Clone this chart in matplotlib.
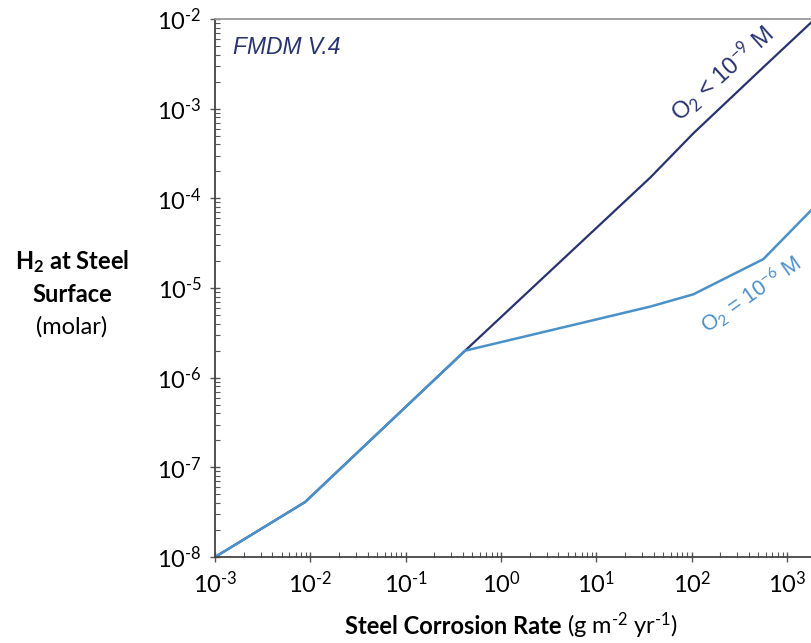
import numpy as np
import matplotlib
matplotlib.use('Agg')
import matplotlib.pyplot as plt

plt.rcParams['font.family'] = ['Lato', 'DejaVu Sans']
plt.rcParams['mathtext.fontset'] = 'custom'
plt.rcParams['mathtext.rm'] = 'Lato'
plt.rcParams['mathtext.it'] = 'Lato:italic'
plt.rcParams['mathtext.bf'] = 'Lato:bold'

# Steel corrosion rate (g m-2 yr-1) vs H2 at steel surface (molar)
rate_low = [1e-3, 8.8e-3, 0.42, 36.7, 104, 565, 2000]
h2_low = [1e-8, 4.1e-8, 2.0e-6, 1.7e-4, 5.3e-4, 2.9e-3, 1.02e-2]   # O2 < 1e-9 M

rate_hi = [1e-3, 8.8e-3, 0.42, 36.7, 104, 565, 2000]
h2_hi = [1e-8, 4.1e-8, 2.0e-6, 6.2e-6, 8.5e-6, 2.1e-5, 8.3e-5]     # O2 = 1e-6 M

x_ticks = [1e-3, 1e-2, 1e-1, 1e0, 1e1, 1e2, 1e3]
y_ticks = [1e-8, 1e-7, 1e-6, 1e-5, 1e-4, 1e-3, 1e-2]

navy = '#28336e'
blue = '#4a90c9'
HY = '\u2010'  # hyphen used for the exponents, as in the original

fig = plt.figure(figsize=(8.12, 6.43), dpi=100)
ax = fig.add_axes([0.2648, 0.1337, 0.7352, 0.8368])

ax.plot(rate_low, h2_low, color=navy, lw=1.6)
ax.plot(rate_hi, h2_hi, color=blue, lw=1.8)

ax.set_xscale('log')
ax.set_yscale('log')
ax.set_xlim(1e-3, 10 ** 3.262)
ax.set_ylim(1e-8, 1e-2)


def sup_label(v):
    e = int(np.log10(v))
    s = str(e).replace('-', HY)
    return '$\\mathregular{10^{%s}}$' % s


ax.set_xticks(x_ticks)
ax.set_xticklabels([sup_label(v) for v in x_ticks])
ax.set_yticks(y_ticks)
ax.set_yticklabels([sup_label(v) for v in y_ticks])

ax.tick_params(which='major', direction='inout', length=7, width=1,
               labelsize=17, color='#555555', pad=6)
ax.tick_params(which='minor', direction='in', length=3.5, width=0.8, color='#555555')
ax.tick_params(top=False, right=False, which='both')

ax.spines['right'].set_visible(False)
ax.spines['top'].set_color('#999999')
for side in ['left', 'bottom', 'top']:
    ax.spines[side].set_linewidth(1.3)
ax.spines['left'].set_color('#444444')
ax.spines['bottom'].set_color('#444444')

ax.text(0.03, 0.968, 'FMDM V.4', transform=ax.transAxes, ha='left', va='top',
        fontsize=16.5, style='italic', color=navy, family='Liberation Sans')

ax.text(0.85, 0.897, r'O$_2$ < 10$^{-9}$ M', transform=ax.transAxes,
        ha='center', va='center', rotation=42, fontsize=17, color=navy,
        family='Liberation Sans')
ax.text(0.898, 0.488, r'O$_2$ = 10$^{-6}$ M', transform=ax.transAxes,
        ha='center', va='center', rotation=35, fontsize=15.5, color=blue,
        family='Liberation Sans')

# y label, horizontal, three lines
fig.text(72 / 812, 1 - 262 / 643, r'$\mathbf{H_2}$' + ' at Steel', ha='center', va='center',
         fontsize=17, fontweight='bold')
fig.text(72 / 812, 1 - 295 / 643, 'Surface', ha='center', va='center',
         fontsize=17, fontweight='bold')
fig.text(72 / 812, 1 - 327 / 643, '(molar)', ha='center', va='center', fontsize=17)

# x label, bold part + normal units
t1 = fig.text(345 / 812, 1 - 626 / 643, 'Steel Corrosion Rate ', ha='left', va='center',
              fontsize=17, fontweight='bold')
fig.canvas.draw()
bb = t1.get_window_extent()
fig.text(bb.x1 / 812, 1 - 626 / 643, '(g m$^{' + HY + '2}$ yr$^{' + HY + '1}$)',
         ha='left', va='center', fontsize=17)

fig.savefig('out.png', dpi=100)
